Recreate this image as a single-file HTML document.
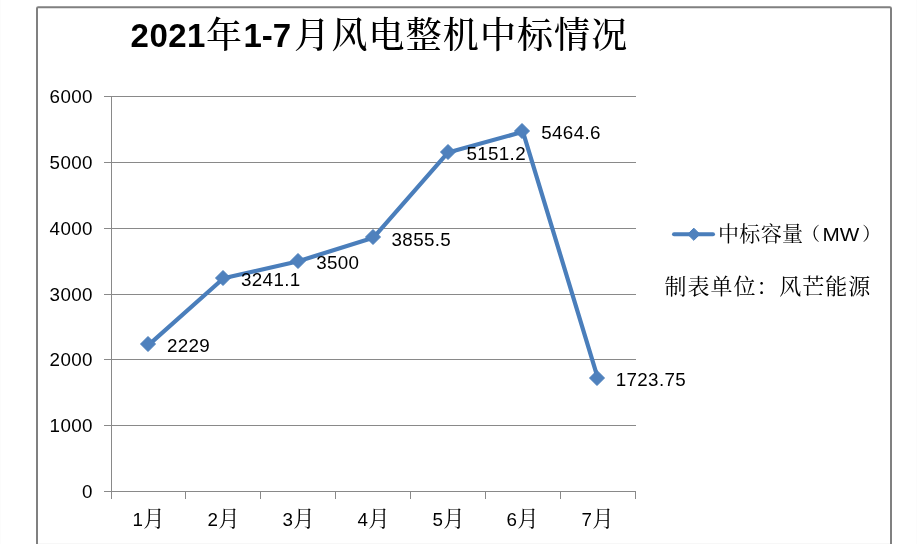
<!DOCTYPE html>
<html lang="zh-CN"><head><meta charset="utf-8"><title>2021年1-7月风电整机中标情况</title>
<style>
html,body{margin:0;padding:0;background:#fff;}
body{width:917px;height:544px;overflow:hidden;position:relative;}
svg{display:block;position:absolute;left:0;top:0;}
.lat{font-family:"Liberation Sans",sans-serif;}
.song{font-family:"Liberation Serif","Noto Serif CJK SC",serif;}
</style></head><body>
<svg width="917" height="544" viewBox="0 0 917 544">
<rect x="0" y="0" width="917" height="544" fill="#fff"/>
<rect x="37" y="7.2" width="854" height="537.7" rx="1.2" ry="1.2" fill="#fff" stroke="#808080" stroke-width="2"/>
<path d="M38 543.5H890" stroke="#f7f7f7" stroke-width="1"/>
<path d="M0.5 0V544M916.5 0V544" stroke="#fcfcfc" stroke-width="1"/>
<path d="M104 491.5H636 M104 425.5H636 M104 359.5H636 M104 294.5H636 M104 228.5H636 M104 162.5H636 M104 96.5H636" stroke="#898989" stroke-width="1" fill="none"/>
<path d="M111.5 96V499 M185.5 491.5V499 M260.5 491.5V499 M335.5 491.5V499 M410.5 491.5V499 M485.5 491.5V499 M560.5 491.5V499 M635.5 491.5V499" stroke="#898989" stroke-width="1" fill="none"/>
<text class="lat" x="92.8" y="498.10" font-size="18.8" letter-spacing="0.35" text-anchor="end" fill="#000">0</text>
<text class="lat" x="92.8" y="432.10" font-size="18.8" letter-spacing="0.35" text-anchor="end" fill="#000">1000</text>
<text class="lat" x="92.8" y="366.10" font-size="18.8" letter-spacing="0.35" text-anchor="end" fill="#000">2000</text>
<text class="lat" x="92.8" y="301.10" font-size="18.8" letter-spacing="0.35" text-anchor="end" fill="#000">3000</text>
<text class="lat" x="92.8" y="235.10" font-size="18.8" letter-spacing="0.35" text-anchor="end" fill="#000">4000</text>
<text class="lat" x="92.8" y="169.10" font-size="18.8" letter-spacing="0.35" text-anchor="end" fill="#000">5000</text>
<text class="lat" x="92.8" y="103.10" font-size="18.8" letter-spacing="0.35" text-anchor="end" fill="#000">6000</text>
<text x="132.40" y="526" font-size="18.8" fill="#000"><tspan class="lat">1</tspan><tspan class="song" font-size="21.33" dx="0.5">月</tspan></text>
<text x="207.40" y="526" font-size="18.8" fill="#000"><tspan class="lat">2</tspan><tspan class="song" font-size="21.33" dx="0.5">月</tspan></text>
<text x="282.40" y="526" font-size="18.8" fill="#000"><tspan class="lat">3</tspan><tspan class="song" font-size="21.33" dx="0.5">月</tspan></text>
<text x="357.40" y="526" font-size="18.8" fill="#000"><tspan class="lat">4</tspan><tspan class="song" font-size="21.33" dx="0.5">月</tspan></text>
<text x="432.40" y="526" font-size="18.8" fill="#000"><tspan class="lat">5</tspan><tspan class="song" font-size="21.33" dx="0.5">月</tspan></text>
<text x="506.40" y="526" font-size="18.8" fill="#000"><tspan class="lat">6</tspan><tspan class="song" font-size="21.33" dx="0.5">月</tspan></text>
<text x="581.40" y="526" font-size="18.8" fill="#000"><tspan class="lat">7</tspan><tspan class="song" font-size="21.33" dx="0.5">月</tspan></text>
<path d="M148.68 344.86 L223.54 278.23 L298.39 261.18 L373.25 237.78 L448.11 152.48 L522.96 131.85 L597.82 378.12" stroke="#4a7ebb" stroke-width="4.2" fill="none" stroke-linejoin="round" stroke-linecap="round"/>
<path d="M148 336.5L155.5 344L148 351.5L140.5 344Z" fill="#4f81bd" stroke="#4a7ebb" stroke-width="1" stroke-linejoin="round"/>
<path d="M223 270.5L230.5 278L223 285.5L215.5 278Z" fill="#4f81bd" stroke="#4a7ebb" stroke-width="1" stroke-linejoin="round"/>
<path d="M298 253.5L305.5 261L298 268.5L290.5 261Z" fill="#4f81bd" stroke="#4a7ebb" stroke-width="1" stroke-linejoin="round"/>
<path d="M373 229.5L380.5 237L373 244.5L365.5 237Z" fill="#4f81bd" stroke="#4a7ebb" stroke-width="1" stroke-linejoin="round"/>
<path d="M448 144.5L455.5 152L448 159.5L440.5 152Z" fill="#4f81bd" stroke="#4a7ebb" stroke-width="1" stroke-linejoin="round"/>
<path d="M522 123.5L529.5 131L522 138.5L514.5 131Z" fill="#4f81bd" stroke="#4a7ebb" stroke-width="1" stroke-linejoin="round"/>
<path d="M597 370.5L604.5 378L597 385.5L589.5 378Z" fill="#4f81bd" stroke="#4a7ebb" stroke-width="1" stroke-linejoin="round"/>
<text class="lat" x="166.98" y="351.76" font-size="18.8" letter-spacing="0.35" fill="#000">2229</text>
<text class="lat" x="241.04" y="286.13" font-size="18.8" letter-spacing="0.35" fill="#000">3241.1</text>
<text class="lat" x="316.19" y="269.08" font-size="18.8" letter-spacing="0.35" fill="#000">3500</text>
<text class="lat" x="391.55" y="245.68" font-size="18.8" letter-spacing="0.35" fill="#000">3855.5</text>
<text class="lat" x="466.41" y="160.38" font-size="18.8" letter-spacing="0.35" fill="#000">5151.2</text>
<text class="lat" x="541.26" y="139.25" font-size="18.8" letter-spacing="0.35" fill="#000">5464.6</text>
<text class="lat" x="615.72" y="386.02" font-size="18.8" letter-spacing="0.35" fill="#000">1723.75</text>
<text y="47" font-size="33" font-weight="bold" class="lat" fill="#000"><tspan x="130.6" letter-spacing="0.45">2021</tspan><tspan x="243.4" letter-spacing="0">1-7</tspan></text>
<text y="48" font-size="36" letter-spacing="1.1" class="song" font-weight="500" fill="#000"><tspan x="205.9">年</tspan><tspan x="294">月</tspan><tspan x="331.5">风电整机中标情况</tspan></text>
<path d="M674 234.2H713" stroke="#4a7ebb" stroke-width="4" stroke-linecap="round" fill="none"/>
<path d="M693.8 228.15L699.9 234.25L693.8 240.35L687.6999999999999 234.25Z" fill="#4f81bd" stroke="#4a7ebb" stroke-width="1" stroke-linejoin="round"/>
<text y="241" font-size="21" fill="#000" class="song"><tspan x="718" letter-spacing="0.33">中标容量</tspan></text>
<text y="239.6" font-size="18.5" fill="#000" class="song"><tspan x="801.5">（</tspan><tspan x="862.2">）</tspan></text>
<text class="lat" font-size="19" fill="#000" transform="translate(822.6 241.1) scale(1.09 1)">MW</text>
<text class="song" x="664.6" y="294.4" font-size="22" letter-spacing="0.95" fill="#000">制表单位：风芒能源</text>
</svg></body></html>
